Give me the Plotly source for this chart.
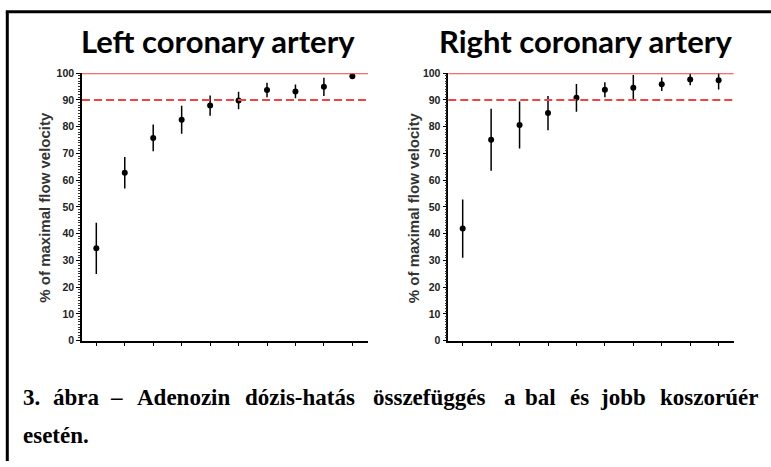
import plotly.graph_objects as go

# ---- data ----
doses = [1, 2, 3, 4, 5, 6, 7, 8, 9, 10]
left_mean = [34.5, 62.8, 75.8, 82.6, 87.9, 89.8, 93.7, 93.2, 94.9, 98.9]
left_err = [9.6, 5.9, 5.0, 5.2, 3.8, 3.3, 2.7, 2.6, 3.4, 0.9]
right_mean = [41.9, 75.1, 80.6, 85.1, 90.8, 93.8, 94.6, 95.9, 97.7, 97.4]
right_err = [10.9, 11.6, 8.8, 6.4, 5.2, 2.8, 4.7, 2.5, 2.2, 3.5]
ref_max = 100
ref_90 = 90
y_ticks = [0, 10, 20, 30, 40, 50, 60, 70, 80, 90, 100]
titles = ["Left coronary artery", "Right coronary artery"]
y_label = "% of maximal flow velocity"
caption_line1 = "3. ábra – Adenozin dózis-hatás összefüggés a bal és jobb koszorúér"
caption_line2 = "esetén."

W, H = 771, 467


def px(x):
    return x / W


def py(y):
    return 1 - y / H


fig = go.Figure()

panels = [
    dict(mean=left_mean, err=left_err, xa="x", ya="y"),
    dict(mean=right_mean, err=right_err, xa="x2", ya="y2"),
]
for p in panels:
    fig.add_trace(go.Scatter(
        x=doses, y=p["mean"], mode="markers",
        marker=dict(color="black", size=6),
        error_y=dict(type="data", array=p["err"], visible=True,
                     color="black", thickness=1.5, width=0),
        xaxis=p["xa"], yaxis=p["ya"], showlegend=False,
    ))

ydom = [py(343.4), py(69.0)]
axis_common_x = dict(
    tickmode="array", tickvals=doses, showticklabels=False,
    ticks="outside", ticklen=4, tickwidth=1.2, tickcolor="black",
    showline=True, linecolor="black", linewidth=1.5,
    showgrid=False, zeroline=False,
)
axis_common_y = dict(
    range=[0, 100], tickmode="array", tickvals=y_ticks,
    ticks="outside", ticklen=4, tickwidth=1.2, tickcolor="black",
    minor=dict(dtick=1, ticks="outside", ticklen=2, tickwidth=1, tickcolor="#333"),
    showline=True, linecolor="black", linewidth=1.5,
    showgrid=False, zeroline=False, domain=ydom,
    tickfont=dict(family="Liberation Sans, Arial", size=10.5, color="#222", weight="bold"),
)

fig.update_layout(
    width=W, height=H,
    margin=dict(l=0, r=0, t=0, b=0),
    paper_bgcolor="white", plot_bgcolor="white",
    xaxis=dict(axis_common_x, domain=[px(82), px(368)], range=[0.497, 10.55], anchor="y"),
    yaxis=dict(axis_common_y, anchor="x"),
    xaxis2=dict(axis_common_x, domain=[px(448.3), px(733.7)], range=[0.494, 10.53], anchor="y2"),
    yaxis2=dict(axis_common_y, anchor="x2"),
)

shapes = []
for xref in ["x domain", "x2 domain"]:
    yref = "y" if xref == "x domain" else "y2"
    shapes.append(dict(type="line", xref=xref, yref=yref, x0=0, x1=1, y0=ref_max, y1=ref_max,
                       line=dict(color="#f04343", width=2)))
    shapes.append(dict(type="line", xref=xref, yref=yref, x0=0, x1=1, y0=ref_90, y1=ref_90,
                       line=dict(color="#f04343", width=2, dash="8px,4px")))
# frame lines
shapes.append(dict(type="line", xref="paper", yref="paper", x0=px(5.8), x1=1, y0=py(6), y1=py(6),
                   line=dict(color="black", width=3)))
shapes.append(dict(type="line", xref="paper", yref="paper", x0=px(7.3), x1=px(7.3), y0=py(6), y1=0,
                   line=dict(color="black", width=3)))
fig.update_layout(shapes=shapes)

ann = []
for t, cx in zip(titles, [218, 585]):
    ann.append(dict(text=t, x=px(cx), y=py(36), xref="paper", yref="paper",
                    xanchor="center", yanchor="middle", showarrow=False,
                    font=dict(family="Lato", size=31, color="black", weight="bold")))
for cx in [45, 413.5]:
    ann.append(dict(text=y_label, x=px(cx), y=py(207), xref="paper", yref="paper",
                    xanchor="center", yanchor="middle", showarrow=False, textangle=-90,
                    font=dict(family="Liberation Sans, Arial", size=15, color="#333", weight="bold")))

# justified caption: words placed across the line width
word_x = [22.7, 53.3, 110, 136.7, 245, 373, 504.3, 525, 570, 600, 660]
for w, x0 in zip(caption_line1.split(" "), word_x):
    ann.append(dict(text=w, x=px(x0 - 2), y=py(402), xref="paper", yref="paper",
                    xanchor="left", yanchor="middle", showarrow=False,
                    font=dict(family="Liberation Serif", size=23, color="black", weight="bold")))
ann.append(dict(text=caption_line2, x=px(22.7 - 2), y=py(441), xref="paper", yref="paper",
                xanchor="left", yanchor="middle", showarrow=False,
                font=dict(family="Liberation Serif", size=23, color="black", weight="bold")))
fig.update_layout(annotations=ann)

fig.write_html("out.html", config={"displayModeBar": False},
               post_script="document.body.style.margin='0';document.body.style.overflow='hidden';")
